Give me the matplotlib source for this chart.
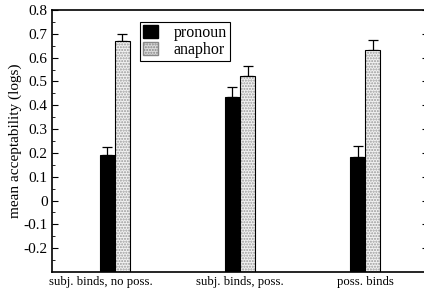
import numpy as np
import matplotlib
matplotlib.use('Agg')
import matplotlib.pyplot as plt
from matplotlib.patches import Patch

# data
categories = ['subj. binds, no poss.', 'subj. binds, poss.', 'poss. binds']
pronoun = [0.193, 0.436, 0.184]
pronoun_err = [0.032, 0.042, 0.045]
anaphor = [0.670, 0.524, 0.632]
anaphor_err = [0.031, 0.042, 0.042]
yticks = [0.8, 0.7, 0.6, 0.5, 0.4, 0.3, 0.2, 0.1, 0, -0.1, -0.2]
ytick_labels = ['0.8', '0.7', '0.6', '0.5', '0.4', '0.3', '0.2', '0.1', '0', '-0.1', '-0.2']

plt.rcParams['font.family'] = ['Liberation Serif', 'DejaVu Serif']
plt.rcParams['axes.unicode_minus'] = False

fig = plt.figure(figsize=(4.24, 2.95), dpi=100)
ax = fig.add_axes([52/424, 23/295, 376/424, 262/295])

x = np.arange(len(categories))
w = 0.12
base = -0.3
dot_grey = '#9a9a9a'

# bars start at the bottom of the axes, as in the reference
p_h = [v - base for v in pronoun]
a_h = [v - base for v in anaphor]
ax.bar(x - w/2, p_h, w, bottom=base, color='black', edgecolor='black', linewidth=0.8, zorder=2)
# stipple fill drawn first, black outline on top
ax.bar(x + w/2, a_h, w, bottom=base, color='#f2f2f2', edgecolor=dot_grey, hatch='......', linewidth=0, zorder=2)
ax.bar(x + w/2, a_h, w, bottom=base, fill=False, edgecolor='black', linewidth=0.8, zorder=3)

zeros = [0]*3
ax.errorbar(x - w/2, pronoun, yerr=[zeros, pronoun_err], fmt='none', ecolor='black',
            elinewidth=0.9, capsize=3.5, capthick=0.9, zorder=1)
ax.errorbar(x + w/2, anaphor, yerr=[zeros, anaphor_err], fmt='none', ecolor='black',
            elinewidth=0.9, capsize=3.5, capthick=0.9, zorder=1)

ax.set_xlim(-0.5, 2.5)
ax.set_ylim(-0.3, 0.8)
ax.set_xticks([-0.11, 1, 2])
ax.set_xticklabels(categories, fontsize=9.2)
ax.tick_params(axis='x', length=0, pad=3)

ax.set_yticks(yticks)
ax.set_yticklabels(ytick_labels, fontsize=11)
ax.set_yticks(np.arange(-0.25, 0.8, 0.1), minor=True)
ax.tick_params(axis='y', which='both', direction='in', left=True, right=True, pad=3)
ax.tick_params(axis='y', which='major', length=4, width=0.8)
ax.tick_params(axis='y', which='minor', length=2, width=0.6)
ax.set_ylabel('mean acceptability (logs)', fontsize=11, labelpad=1)

for s in ax.spines.values():
    s.set_linewidth(1.2)

handles = [Patch(facecolor='black', edgecolor='black', label='pronoun'),
           Patch(facecolor='#dcdcdc', edgecolor='#888888', hatch='......', label='anaphor')]
leg = ax.legend(handles=handles, loc='upper left', bbox_to_anchor=(88/376, 1 - 12/262),
                fontsize=11.5, frameon=True, fancybox=False, edgecolor='black', framealpha=1,
                handlelength=0.9, handleheight=0.9, handletextpad=1.0, borderpad=0.2,
                labelspacing=0.05, borderaxespad=0)
leg.get_frame().set_linewidth(0.8)

fig.savefig('out.png', dpi=100)
